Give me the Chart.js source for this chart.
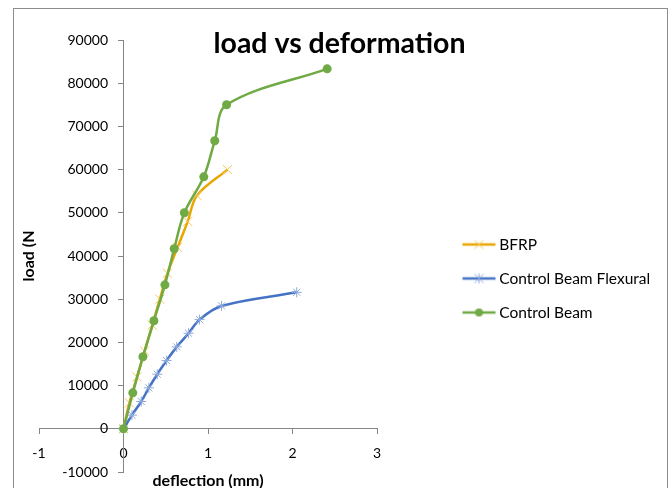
<!DOCTYPE html>
<html>
<head>
<meta charset="utf-8">
<script src="https://cdn.jsdelivr.net/npm/chart.js@4/dist/chart.umd.min.js"></script>
<style>
  html, body { margin: 0; padding: 0; background: #fff; }
  #wrap { width: 672px; height: 488px; }
</style>
</head>
<body>
<div id="wrap"><canvas id="chart" width="672" height="488"></canvas></div>
<script>
// values
var chartTitle = 'load vs deformation';
var xAxisTitle = 'deflection (mm)';
var yAxisTitle = 'load (N';

var seriesNames = ['BFRP', 'Control Beam Flexural', 'Control Beam'];

var bfrpDeflection = [0, 0.07, 0.16, 0.25, 0.34, 0.43, 0.52, 0.64, 0.76, 0.87, 1.23];
var bfrpLoad = [0, 6000, 12000, 18000, 24000, 30000, 36000, 42000, 48000, 54000, 60000];

var flexDeflection = [0, 0.1, 0.21, 0.3, 0.4, 0.51, 0.63, 0.77, 0.9, 1.16, 2.05];
var flexLoad = [0, 3160, 6320, 9480, 12640, 15800, 18960, 22120, 25280, 28440, 31600];

var beamDeflection = [0, 0.11, 0.23, 0.36, 0.49, 0.6, 0.72, 0.95, 1.08, 1.22, 2.41];
var beamLoad = [0, 8330, 16670, 25000, 33330, 41670, 50000, 58330, 66670, 75000, 83330];

var xTicks = [-1, 0, 1, 2, 3];
var yTicks = [-10000, 0, 10000, 20000, 30000, 40000, 50000, 60000, 70000, 80000, 90000];

var colors = {
  bfrp: '#E8A600', bfrpMark: '#F5C760',
  flex: '#4472C4', flexMark: '#8FAADC',
  beam: '#6FAA45'
};

function pairs(xs, ys) {
  return xs.map(function (x, i) { return { x: x, y: ys[i] }; });
}

// legend sample: short line with the marker in the middle
function legendIcon(line, mark, kind) {
  var c = document.createElement('canvas');
  c.width = 106; c.height = 14;
  var g = c.getContext('2d');
  g.strokeStyle = line; g.lineWidth = 2.5;
  g.beginPath(); g.moveTo(72, 7); g.lineTo(105, 7); g.stroke();
  var cx = 88.5, cy = 7;
  g.strokeStyle = mark; g.lineWidth = 1;
  g.beginPath();
  if (kind === 'x' || kind === 'star') {
    g.moveTo(cx - 4.5, cy - 4.5); g.lineTo(cx + 4.5, cy + 4.5);
    g.moveTo(cx + 4.5, cy - 4.5); g.lineTo(cx - 4.5, cy + 4.5);
  }
  if (kind === 'star') {
    g.moveTo(cx, cy - 5); g.lineTo(cx, cy + 5);
  }
  g.stroke();
  if (kind === 'dot') {
    g.fillStyle = mark;
    g.beginPath(); g.arc(cx, cy, 4, 0, Math.PI * 2); g.fill();
  }
  return c;
}
var legendIcons = [
  legendIcon(colors.bfrp, colors.bfrpMark, 'x'),
  legendIcon(colors.flex, colors.flexMark, 'star'),
  legendIcon(colors.beam, colors.beam, 'dot')
];

// the legend sits right of the plot; work out the padding so the plot ends at x=377
var legendFont = { family: 'Lato', size: 15.5 };
var legendPad = 18.5;
var m = document.createElement('canvas').getContext('2d');
m.font = legendFont.size + 'px ' + legendFont.family;
var widest = Math.max.apply(null, seriesNames.map(function (s) { return m.measureText(s).width; }));
var legendWidth = legendPad + 96 + legendFont.size / 2 + widest + 10;
var padRight = 672 - 377 - legendWidth;

var frameAndTitle = {
  id: 'frameAndTitle',
  beforeDraw: function (chart) {
    var ctx = chart.ctx;
    ctx.save();
    ctx.fillStyle = '#fff';
    ctx.fillRect(0, 0, chart.width, chart.height);
    ctx.strokeStyle = '#8c8c8c';
    ctx.lineWidth = 1;
    ctx.strokeRect(13.5, 8.5, 654, 520);
    ctx.restore();
  },
  afterDraw: function (chart) {
    var ctx = chart.ctx;
    ctx.save();
    ctx.font = 'bold 28.5px Lato';
    ctx.fillStyle = '#000';
    ctx.textAlign = 'center';
    ctx.textBaseline = 'alphabetic';
    ctx.fillText(chartTitle, 339.5, 53);
    ctx.restore();
  }
};

// a y axis placed at x=0 draws its labels flush against the line; move them off it
var yLabelGap = {
  id: 'yLabelGap',
  afterLayout: function (chart) {
    var s = chart.scales.y;
    if (s._gapPatched) return;
    var draw = s.drawLabels.bind(s);
    s.drawLabels = function (area) {
      this.ctx.save();
      this.ctx.translate(-15.5, 0);
      draw(area);
      this.ctx.restore();
    };
    s._gapPatched = true;
  }
};

var axisGrid = { drawOnChartArea: false, drawTicks: true, tickLength: 5, color: '#868686' };
var axisBorder = { display: true, color: '#868686', width: 1 };
var tickFont = { family: 'Lato', size: 14 };

new Chart(document.getElementById('chart'), {
  type: 'scatter',
  data: {
    datasets: [
      {
        label: seriesNames[0],
        data: pairs(bfrpDeflection, bfrpLoad),
        showLine: true,
        borderColor: colors.bfrp,
        borderWidth: 2.5,
        tension: 0.35,
        pointStyle: 'crossRot',
        pointRadius: 6.5,
        pointBorderWidth: 1,
        pointBorderColor: colors.bfrpMark,
        pointBackgroundColor: colors.bfrpMark,
        order: 2
      },
      {
        label: seriesNames[1],
        data: pairs(flexDeflection, flexLoad),
        showLine: true,
        borderColor: colors.flex,
        borderWidth: 2.5,
        tension: 0.35,
        pointStyle: 'star',
        pointRadius: 5,
        pointBorderWidth: 1,
        pointBorderColor: colors.flexMark,
        pointBackgroundColor: colors.flexMark,
        order: 1
      },
      {
        label: seriesNames[2],
        data: pairs(beamDeflection, beamLoad),
        showLine: true,
        borderColor: colors.beam,
        borderWidth: 2.5,
        tension: 0.35,
        pointStyle: 'circle',
        pointRadius: 4.5,
        pointBorderWidth: 0,
        pointBackgroundColor: colors.beam,
        order: 0
      }
    ]
  },
  options: {
    responsive: false,
    animation: false,
    layout: { padding: { left: 0, top: 40, right: padRight, bottom: 0 } },
    scales: {
      x: {
        type: 'linear',
        min: -1, max: 3,
        position: { y: 0 },
        afterBuildTicks: function (s) { s.ticks = xTicks.map(function (v) { return { value: v }; }); },
        grid: axisGrid,
        border: axisBorder,
        ticks: { color: '#000', font: tickFont, padding: 11, maxRotation: 0, autoSkip: false,
                 callback: function (v) { return String(v); } }
      },
      y: {
        type: 'linear',
        min: -10000, max: 90000,
        position: { x: 0 },
        afterBuildTicks: function (s) { s.ticks = yTicks.map(function (v) { return { value: v }; }); },
        grid: axisGrid,
        border: axisBorder,
        ticks: { color: '#000', font: tickFont, autoSkip: false,
                 callback: function (v) { return String(v); } }
      }
    },
    plugins: {
      tooltip: { enabled: false },
      title: {
        display: true, text: yAxisTitle, position: 'left', fullSize: false, color: '#000',
        font: { family: 'Lato', size: 16, weight: 'bold', lineHeight: 1 },
        padding: { top: 21, bottom: 2 }
      },
      subtitle: {
        display: true, text: xAxisTitle, position: 'bottom', fullSize: false, color: '#000',
        font: { family: 'Lato', size: 16, weight: 'bold', lineHeight: '15px' },
        padding: { top: 1, bottom: 0 }
      },
      legend: {
        position: 'right',
        align: 'center',
        maxWidth: 400,
        title: { display: true, text: '', padding: { top: 0, bottom: 19 }, font: { size: 10, lineHeight: 1 } },
        labels: {
          usePointStyle: true,
          pointStyleWidth: 96,
          padding: legendPad,
          color: '#000',
          font: legendFont,
          generateLabels: function (chart) {
            return chart.data.datasets.map(function (ds, i) {
              return {
                text: ds.label,
                pointStyle: legendIcons[i],
                fillStyle: ds.borderColor,
                strokeStyle: ds.borderColor,
                lineWidth: 0,
                hidden: false,
                datasetIndex: i,
                fontColor: '#000'
              };
            });
          }
        }
      }
    }
  },
  plugins: [frameAndTitle, yLabelGap]
});
</script>
</body>
</html>
